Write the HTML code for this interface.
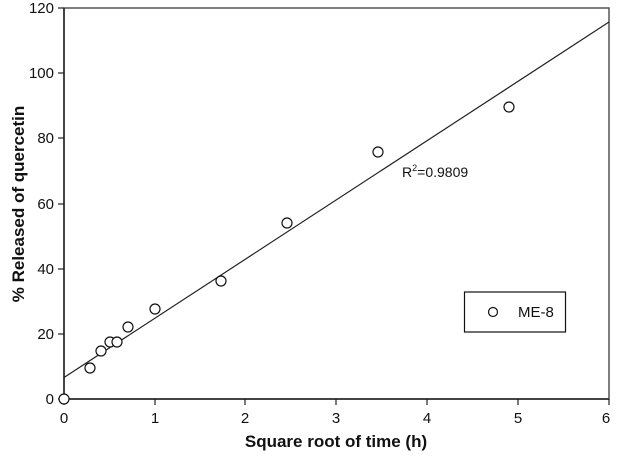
<!DOCTYPE html>
<html><head><style>body{margin:0;background:#fff}svg{display:block}</style></head><body>
<svg width="620" height="458" viewBox="0 0 620 458" xmlns="http://www.w3.org/2000/svg" font-family="Liberation Sans, Arial, sans-serif">
<rect width="620" height="458" fill="#fff"/>
<g stroke="#444" stroke-width="1.5" fill="none">
<rect x="64" y="8" width="545" height="391" stroke="#555"/>
<line x1="64" y1="399" x2="609" y2="399" stroke="#222"/>
<line x1="64" y1="8" x2="64" y2="399" stroke="#222"/>
</g>
<g stroke="#222" stroke-width="1.2">
<line x1="64" y1="399" x2="64" y2="405"/><line x1="155" y1="399" x2="155" y2="405"/><line x1="245" y1="399" x2="245" y2="405"/><line x1="336" y1="399" x2="336" y2="405"/><line x1="427" y1="399" x2="427" y2="405"/><line x1="518" y1="399" x2="518" y2="405"/><line x1="609" y1="399" x2="609" y2="405"/>
<line x1="58" y1="399" x2="64" y2="399"/><line x1="58" y1="334" x2="64" y2="334"/><line x1="58" y1="269" x2="64" y2="269"/><line x1="58" y1="204" x2="64" y2="204"/><line x1="58" y1="138" x2="64" y2="138"/><line x1="58" y1="73" x2="64" y2="73"/><line x1="58" y1="8" x2="64" y2="8"/>
</g>
<g font-size="15" fill="#111" text-anchor="middle">
<text x="64" y="423">0</text><text x="155" y="423">1</text><text x="245" y="423">2</text><text x="336" y="423">3</text><text x="427" y="423">4</text><text x="518" y="423">5</text><text x="606" y="423">6</text>
</g>
<g font-size="15" fill="#111" text-anchor="end">
<text x="54" y="404">0</text><text x="54" y="339">20</text><text x="54" y="274">40</text><text x="54" y="209">60</text><text x="54" y="143">80</text><text x="54" y="78">100</text><text x="54" y="13">120</text>
</g>
<text x="336" y="447" font-size="17" font-weight="bold" text-anchor="middle" fill="#111">Square root of time (h)</text>
<text transform="translate(24,204) rotate(-90)" font-size="17" font-weight="bold" text-anchor="middle" fill="#111">% Released of quercetin</text>
<line x1="64" y1="377.5" x2="609" y2="22" stroke="#222" stroke-width="1.2"/>
<g fill="#fff" stroke="#111" stroke-width="1.2">
<circle cx="64" cy="399" r="5"/><circle cx="90" cy="368" r="5"/><circle cx="101" cy="351" r="5"/><circle cx="110" cy="342" r="5"/><circle cx="117" cy="342" r="5"/><circle cx="128" cy="327" r="5"/><circle cx="155" cy="309" r="5"/><circle cx="221" cy="281" r="5"/><circle cx="287" cy="223" r="5"/><circle cx="378" cy="152" r="5"/><circle cx="509" cy="107" r="5"/>
</g>
<text x="402" y="177" font-size="14" fill="#111">R<tspan font-size="9" dy="-6">2</tspan><tspan dy="6">=0.9809</tspan></text>
<rect x="464.5" y="292" width="101" height="40" fill="#fff" stroke="#111" stroke-width="1.2"/>
<circle cx="493" cy="312" r="4.5" fill="#fff" stroke="#111" stroke-width="1.2"/>
<text x="518" y="317" font-size="15" fill="#111">ME-8</text>
</svg>
</body></html>
